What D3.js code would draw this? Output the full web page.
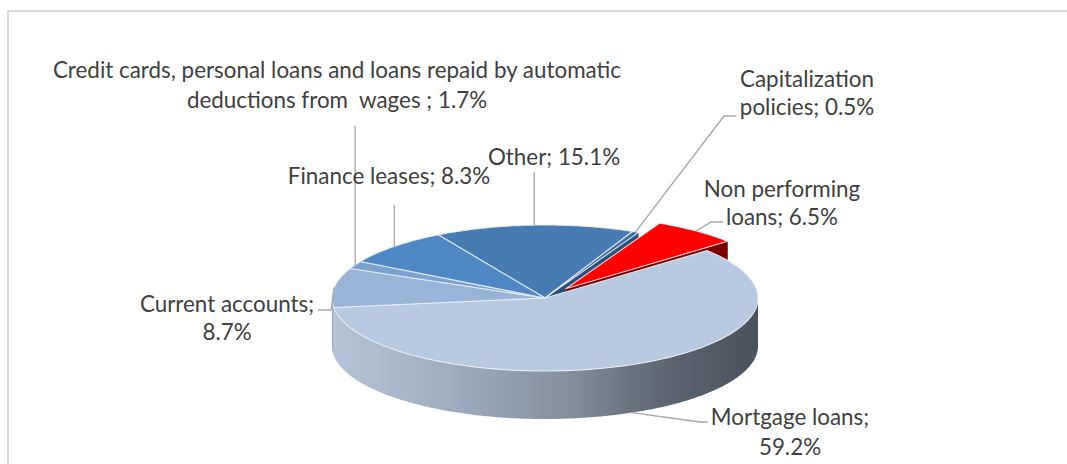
<!DOCTYPE html>
<html>
<head>
<meta charset="utf-8">
<script src="https://cdn.jsdelivr.net/npm/d3@7"></script>
<style>
  html, body { margin: 0; padding: 0; background: #ffffff; }
  svg { display: block; }
  .lbl { font-family: Lato, "Open Sans", sans-serif; font-size: 22.4px; fill: #404040; white-space: pre; }
</style>
</head>
<body>
<svg id="chart" width="1067" height="464"></svg>
<script>
// Loan portfolio breakdown (share of total, %), in drawing order clockwise
const categories = [
  "Other",
  "Capitalization policies",
  "Non performing loans",
  "Mortgage loans",
  "Current accounts",
  "Credit cards, personal loans and loans repaid by automatic deductions from  wages ",
  "Finance leases"
];
const shares = [15.1, 0.5, 6.5, 59.2, 8.7, 1.7, 8.3];
const exploded = [false, false, true, false, false, false, false];

const topColors  = ["#477bb1", "#3f6fa2", "#fe0000", "#b8cadf", "#9ab4d7", "#7ba3d1", "#4f88c5"];
const sideColors = ["#2f5682", "#2b5078", "#7a0000", "#8896a8", "#9aadc6", "#6a8cb6", "#3b6796"];

// Label layout: text anchor x, line baselines, line break word, leader bend points
const labelLayout = [
  { x: 554, ys: [165],      breakAfter: null,              pts: [[null, 172]] },
  { x: 807, ys: [87, 115],  breakAfter: "Capitalization",  pts: [[724, 116], [736, 116]] },
  { x: 782, ys: [197, 225], breakAfter: "Non performing",  pts: [[711, 222], [723, 222]] },
  { x: 790, ys: [425, 455], breakAfter: "Mortgage loans;", pts: [[700, 422], [708, 422]] },
  { x: 227, ys: [312, 340], breakAfter: "Current accounts;", pts: [[331, 310], [318, 310]] },
  { x: 337, ys: [78, 108],  breakAfter: "automatic",       pts: [[null, 126]] },
  { x: 389, ys: [184],      breakAfter: null,              pts: [[null, 205]] }
];

const W = 1067, H = 464;
const cx = 545, cy = 298, rx = 213, ry = 73, depth = 48, explodeFrac = 0.16;
const startDeg = -30.1;

const svg = d3.select("#chart");

// chart frame
svg.append("rect")
  .attr("x", 8).attr("y", 11)
  .attr("width", W + 20).attr("height", H + 20)
  .attr("fill", "#ffffff")
  .attr("stroke", "#d9d9d9").attr("stroke-width", 2);

const defs = svg.append("defs");
const grad = defs.append("linearGradient")
  .attr("id", "wallShade")
  .attr("gradientUnits", "userSpaceOnUse")
  .attr("x1", cx - rx).attr("y1", 0).attr("x2", cx + rx).attr("y2", 0);
[[0, "#b6c4d8"], [0.3, "#9dabbe"], [0.55, "#848f9e"], [0.8, "#5a636f"], [1, "#4a525d"]]
  .forEach(([o, c]) => grad.append("stop").attr("offset", o).attr("stop-color", c));

const a0 = startDeg * Math.PI / 180;
const pie = d3.pie().sort(null).value(d => d).startAngle(a0).endAngle(a0 + 2 * Math.PI);
const arcs = pie(shares);

// projected point on the tilted disc
function pt(a, ox, oy, dz, r = 1) {
  return [cx + ox + r * rx * Math.sin(a), cy + oy - r * ry * Math.cos(a) + dz];
}
function offsetOf(i) {
  if (!exploded[i]) return [0, 0];
  const m = (arcs[i].startAngle + arcs[i].endAngle) / 2;
  return [explodeFrac * rx * Math.sin(m), -explodeFrac * ry * Math.cos(m)];
}
function samples(s, e) {
  const n = Math.max(2, Math.ceil(Math.abs(e - s) / (Math.PI / 180)));
  return d3.range(n + 1).map(k => s + (e - s) * k / n);
}
const line = d3.line();

const walls = svg.append("g");
const tops = svg.append("g");

// radial cut faces exposed by the exploded slice
arcs.forEach((d, i) => {
  const [ox, oy] = offsetOf(i);
  const faces = [];
  const nextExploded = exploded[(i + 1) % arcs.length];
  const prevExploded = exploded[(i - 1 + arcs.length) % arcs.length];
  if ((exploded[i] || nextExploded) && Math.sin(d.endAngle) > 0) faces.push(d.endAngle);
  if ((exploded[i] || prevExploded) && Math.sin(d.startAngle) < 0) faces.push(d.startAngle);
  faces.forEach(a => {
    const p = [pt(0, ox, oy, 0, 0), pt(a, ox, oy, 0), pt(a, ox, oy, depth), pt(0, ox, oy, depth, 0)];
    walls.append("path").attr("d", line(p) + "Z").attr("fill", sideColors[i]);
  });
});

// outer walls on the front half of the disc
arcs.forEach((d, i) => {
  const s = Math.max(d.startAngle, Math.PI / 2);
  const e = Math.min(d.endAngle, 3 * Math.PI / 2);
  if (e <= s) return;
  const [ox, oy] = offsetOf(i);
  const topPts = samples(s, e).map(a => pt(a, ox, oy, 0));
  const botPts = samples(e, s).map(a => pt(a, ox, oy, depth));
  walls.append("path")
    .attr("d", line(topPts.concat(botPts)) + "Z")
    .attr("fill", i === 3 ? "url(#wallShade)" : sideColors[i]);
});

// top faces
arcs.forEach((d, i) => {
  const [ox, oy] = offsetOf(i);
  const p = [pt(0, ox, oy, 0, 0)].concat(samples(d.startAngle, d.endAngle).map(a => pt(a, ox, oy, 0)));
  tops.append("path")
    .attr("d", line(p) + "Z")
    .attr("fill", topColors[i])
    .attr("stroke", "rgba(235,241,248,0.85)")
    .attr("stroke-width", 1.1)
    .attr("stroke-linejoin", "round");
});

// leader lines and data labels
const labels = svg.append("g");
arcs.forEach((d, i) => {
  const m = (d.startAngle + d.endAngle) / 2;
  const [ox, oy] = offsetOf(i);
  const front = Math.cos(m) < -0.5;
  const anchor = pt(m, ox, oy, front ? depth : 0);
  const L = labelLayout[i];
  const pts = [anchor].concat(L.pts.map(([x, y]) => [x === null ? anchor[0] : x, y]));
  labels.append("path")
    .attr("d", line(pts))
    .attr("fill", "none")
    .attr("stroke", "#a6a6a6")
    .attr("stroke-width", 1.3);

  const text = `${categories[i]}; ${shares[i].toFixed(1)}%`;
  let lines = [text];
  if (L.breakAfter) {
    const k = text.indexOf(L.breakAfter) + L.breakAfter.length;
    lines = [text.slice(0, k), text.slice(k).replace(/^ /, "")];
  }
  lines.forEach((t, j) => {
    labels.append("text")
      .attr("class", "lbl")
      .attr("x", L.x)
      .attr("y", L.ys[j])
      .attr("text-anchor", "middle")
      .text(t);
  });
});
</script>
</body>
</html>
